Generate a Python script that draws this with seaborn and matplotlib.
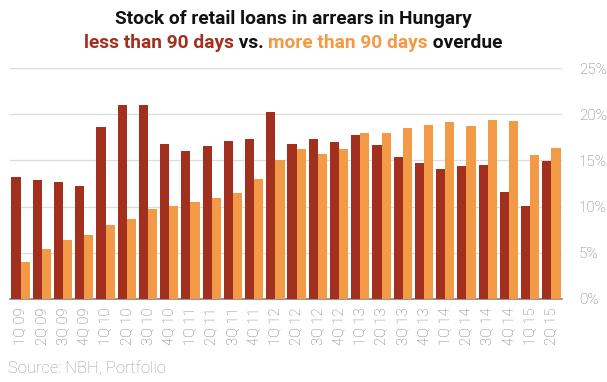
import pandas as pd
import seaborn as sns
import matplotlib.pyplot as plt

# Données (en %)
quarters = ['1Q 09', '2Q 09', '3Q 09', '4Q 09', '1Q 10', '2Q 10', '3Q 10', '4Q 10',
            '1Q 11', '2Q 11', '3Q 11', '4Q 11', '1Q 12', '2Q 12', '3Q 12', '4Q 12',
            '1Q 13', '2Q 13', '3Q 13', '4Q 13', '1Q 14', '2Q 14', '3Q 14', '4Q 14',
            '1Q 15', '2Q 15']
less_90 = [13.2, 12.9, 12.7, 12.25, 18.6, 21.0, 21.0, 16.8, 16.05, 16.6, 17.1, 17.3,
           20.25, 16.8, 17.3, 17.0, 17.75, 16.7, 15.4, 14.75, 14.1, 14.4, 14.5, 11.6,
           10.1, 14.95]
more_90 = [4.05, 5.45, 6.4, 6.95, 8.05, 8.7, 9.75, 10.1, 10.5, 10.95, 11.5, 13.0,
           15.05, 16.25, 15.7, 16.25, 17.95, 17.95, 18.5, 18.85, 19.15, 18.75, 19.4, 19.3,
           15.6, 16.35]
y_ticks = [0, 5, 10, 15, 20, 25]

red = '#a3301f'
orange = '#f39a46'

df = pd.DataFrame({
    'quarter': quarters * 2,
    'value': less_90 + more_90,
    'serie': ['less'] * len(quarters) + ['more'] * len(quarters),
})

sns.set_style('white')
plt.rcParams['font.family'] = ['Roboto', 'DejaVu Sans']

fig = plt.figure(figsize=(6.07, 3.82), dpi=100)
ax = fig.add_axes([10 / 607, 1 - 299 / 382, 552 / 607, 231 / 382])

sns.barplot(data=df, x='quarter', y='value', hue='serie', palette=[red, orange],
            width=0.86, gap=0, saturation=1, legend=False, linewidth=0, ax=ax, zorder=3)

ax.set_ylim(0, 25)
ax.set_xlim(-0.5, len(quarters) - 0.5)
ax.set_yticks(y_ticks)
ax.set_yticklabels([f'{t}%' for t in y_ticks], fontsize=11, color='#777777', fontweight='light')
ax.yaxis.tick_right()
ax.tick_params(axis='y', length=0, pad=12)
ax.tick_params(axis='x', length=0, pad=6)
ax.set_xticks(range(len(quarters)))
ax.set_xticklabels(quarters, rotation=90, fontsize=10.5, color='#777777', fontweight='light')
ax.grid(axis='y', color='#dcdcdc', linewidth=0.9, zorder=0)
ax.set_axisbelow(True)
for s in ['left', 'right', 'top']:
    ax.spines[s].set_visible(False)
ax.spines['bottom'].set_color('#8a7f7a')
ax.spines['bottom'].set_linewidth(1.2)
ax.set_xlabel('')
ax.set_ylabel('')

centre = 293

# Titre
fig.text(centre / 607, 1 - 24 / 382, 'Stock of retail loans in arrears in Hungary', ha='center',
         va='baseline', fontsize=13.8, fontweight='bold', color='#111111')

# Sous-titre en plusieurs couleurs
pieces = [('less than 90 days', red), (' vs. ', '#111111'),
          ('more than 90 days', orange), (' overdue', '#111111')]
renderer = fig.canvas.get_renderer()
texts = []
for txt, col in pieces:
    t = fig.text(0, 1 - 48 / 382, txt, va='baseline', fontsize=13.8, fontweight='bold', color=col)
    texts.append(t)
widths = [t.get_window_extent(renderer).width for t in texts]
x = centre - sum(widths) / 2
for t, w in zip(texts, widths):
    t.set_x(x / 607)
    x += w

fig.text(8 / 607, 1 - 374 / 382, 'Source: NBH, Portfolio', fontsize=12, color='#999999',
         fontweight='light', va='baseline')

fig.savefig('out.png', dpi=100)
